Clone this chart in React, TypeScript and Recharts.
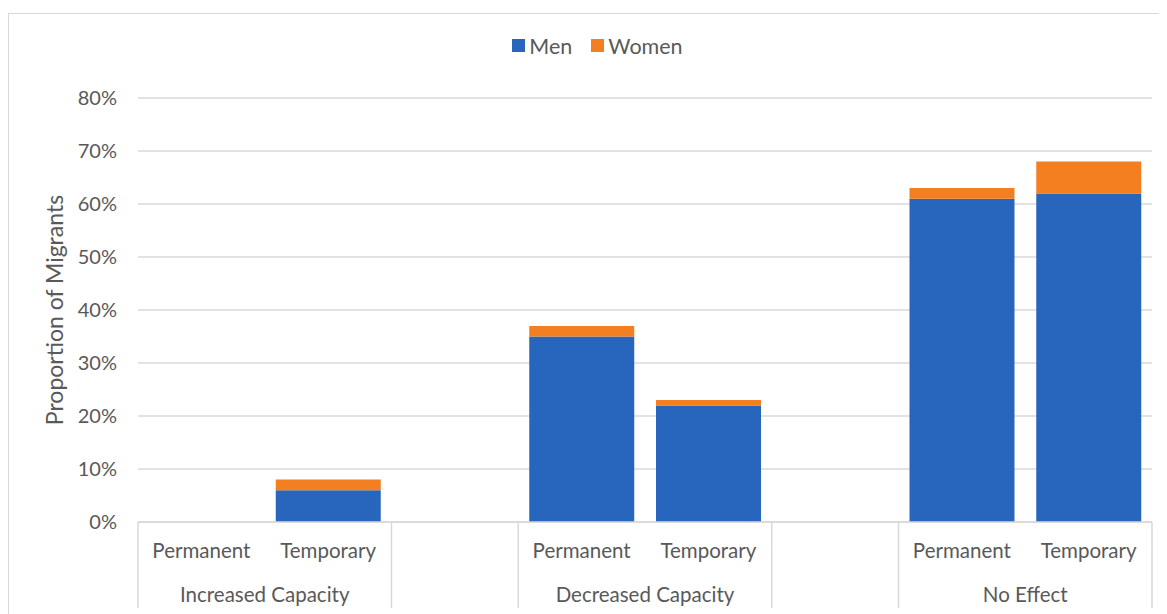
import { BarChart, Bar, XAxis, YAxis, CartesianGrid } from 'recharts';

const categories = ['Permanent', 'Temporary', '', 'Permanent', 'Temporary', '', 'Permanent', 'Temporary'];
const groups = [
  'Increased Capacity',
  'Increased Capacity',
  '',
  'Decreased Capacity',
  'Decreased Capacity',
  '',
  'No Effect',
  'No Effect',
];
const menValues = [0, 6, null, 35, 22, null, 61, 62];
const womenValues = [0, 2, null, 2, 1, null, 2, 6];
const yTicks = [0, 10, 20, 30, 40, 50, 60, 70, 80];

const chartData = categories.map((sub, i) => ({
  sub,
  group: groups[i],
  men: menValues[i],
  women: womenValues[i],
}));

const TEXT = '#595959';
const LINE = '#d9d9d9';
const FONT = 'Lato, "Open Sans", sans-serif';

const CHART_W = 1158;
const CHART_H = 600;
const MARGIN = { top: 84, right: 15, bottom: 0, left: 0 };
const Y_WIDTH = 129;
const X_HEIGHT = CHART_H - 508;
const BAND = (CHART_W - MARGIN.right - Y_WIDTH) / categories.length;

// two-level category axis, like excel's multi-level labels
function GroupedTick(props: any) {
  const { x, index } = props;
  const axisY = 508;
  const row = chartData[index];
  const isFirst = index === 0 || chartData[index - 1].group !== row.group;
  const isLast = index === chartData.length - 1;
  let groupCenter = x;
  if (row.group && isFirst) {
    let n = 1;
    while (index + n < chartData.length && chartData[index + n].group === row.group) n++;
    groupCenter = x - BAND / 2 + (n * BAND) / 2;
  }
  return (
    <g>
      {isFirst && (
        <line x1={x - BAND / 2} x2={x - BAND / 2} y1={axisY} y2={594} stroke={LINE} strokeWidth={1.5} />
      )}
      {isLast && (
        <line x1={x + BAND / 2} x2={x + BAND / 2} y1={axisY} y2={594} stroke={LINE} strokeWidth={1.5} />
      )}
      {row.sub && (
        <text x={x} y={axisY + 31} textAnchor="middle" dominantBaseline="middle" fill={TEXT} fontSize={20.5} fontFamily={FONT}>
          {row.sub}
        </text>
      )}
      {row.group && isFirst && (
        <text x={groupCenter} y={axisY + 75} textAnchor="middle" dominantBaseline="middle" fill={TEXT} fontSize={20.5} fontFamily={FONT}>
          {row.group}
        </text>
      )}
    </g>
  );
}

function YTitle() {
  return (
    <text
      x={48}
      y={296}
      transform="rotate(-90 48 296)"
      textAnchor="middle"
      dominantBaseline="middle"
      fill={TEXT}
      fontSize={23}
      fontFamily={FONT}
    >
      Proportion of Migrants
    </text>
  );
}

function LegendBox() {
  const item = (color: string, label: string, gap: number) => (
    <span style={{ display: 'inline-flex', alignItems: 'center', marginRight: gap }}>
      <span style={{ width: 13, height: 13, background: color, display: 'inline-block', marginRight: 4 }} />
      <span>{label}</span>
    </span>
  );
  return (
    <div
      style={{
        position: 'absolute',
        top: 17,
        left: 0,
        width: CHART_W,
        textAlign: 'center',
        paddingLeft: 19,
        boxSizing: 'border-box',
        fontFamily: FONT,
        fontSize: 21.5,
        color: TEXT,
      }}
    >
      {item('#2866bd', 'Men', 19)}
      {item('#f47f20', 'Women', 0)}
    </div>
  );
}

export default function App() {
  return (
    <div
      style={{
        marginTop: 5,
        width: 1158,
        height: 600,
        borderTop: `1px solid ${LINE}`,
        borderLeft: `1px solid ${LINE}`,
        position: 'relative',
        overflow: 'hidden',
      }}
    >
      <LegendBox />
      <BarChart width={CHART_W} height={CHART_H} data={chartData} margin={MARGIN}>
        <CartesianGrid horizontal vertical={false} stroke={LINE} strokeWidth={1.5} />
        <XAxis
          dataKey="sub"
          height={X_HEIGHT}
          interval={0}
          tickLine={false}
          axisLine={{ stroke: LINE, strokeWidth: 1.5 }}
          tick={<GroupedTick />}
        />
        <YAxis
          width={Y_WIDTH}
          domain={[0, 80]}
          ticks={yTicks}
          interval={0}
          tickLine={false}
          axisLine={false}
          tickMargin={15}
          tickFormatter={(v: number) => `${v}%`}
          tick={{ fill: TEXT, fontSize: 20, fontFamily: FONT }}
          label={<YTitle />}
        />
        <Bar dataKey="men" name="Men" stackId="a" fill="#2866bd" barSize={105} isAnimationActive={false} />
        <Bar dataKey="women" name="Women" stackId="a" fill="#f47f20" barSize={105} isAnimationActive={false} />
      </BarChart>
    </div>
  );
}
